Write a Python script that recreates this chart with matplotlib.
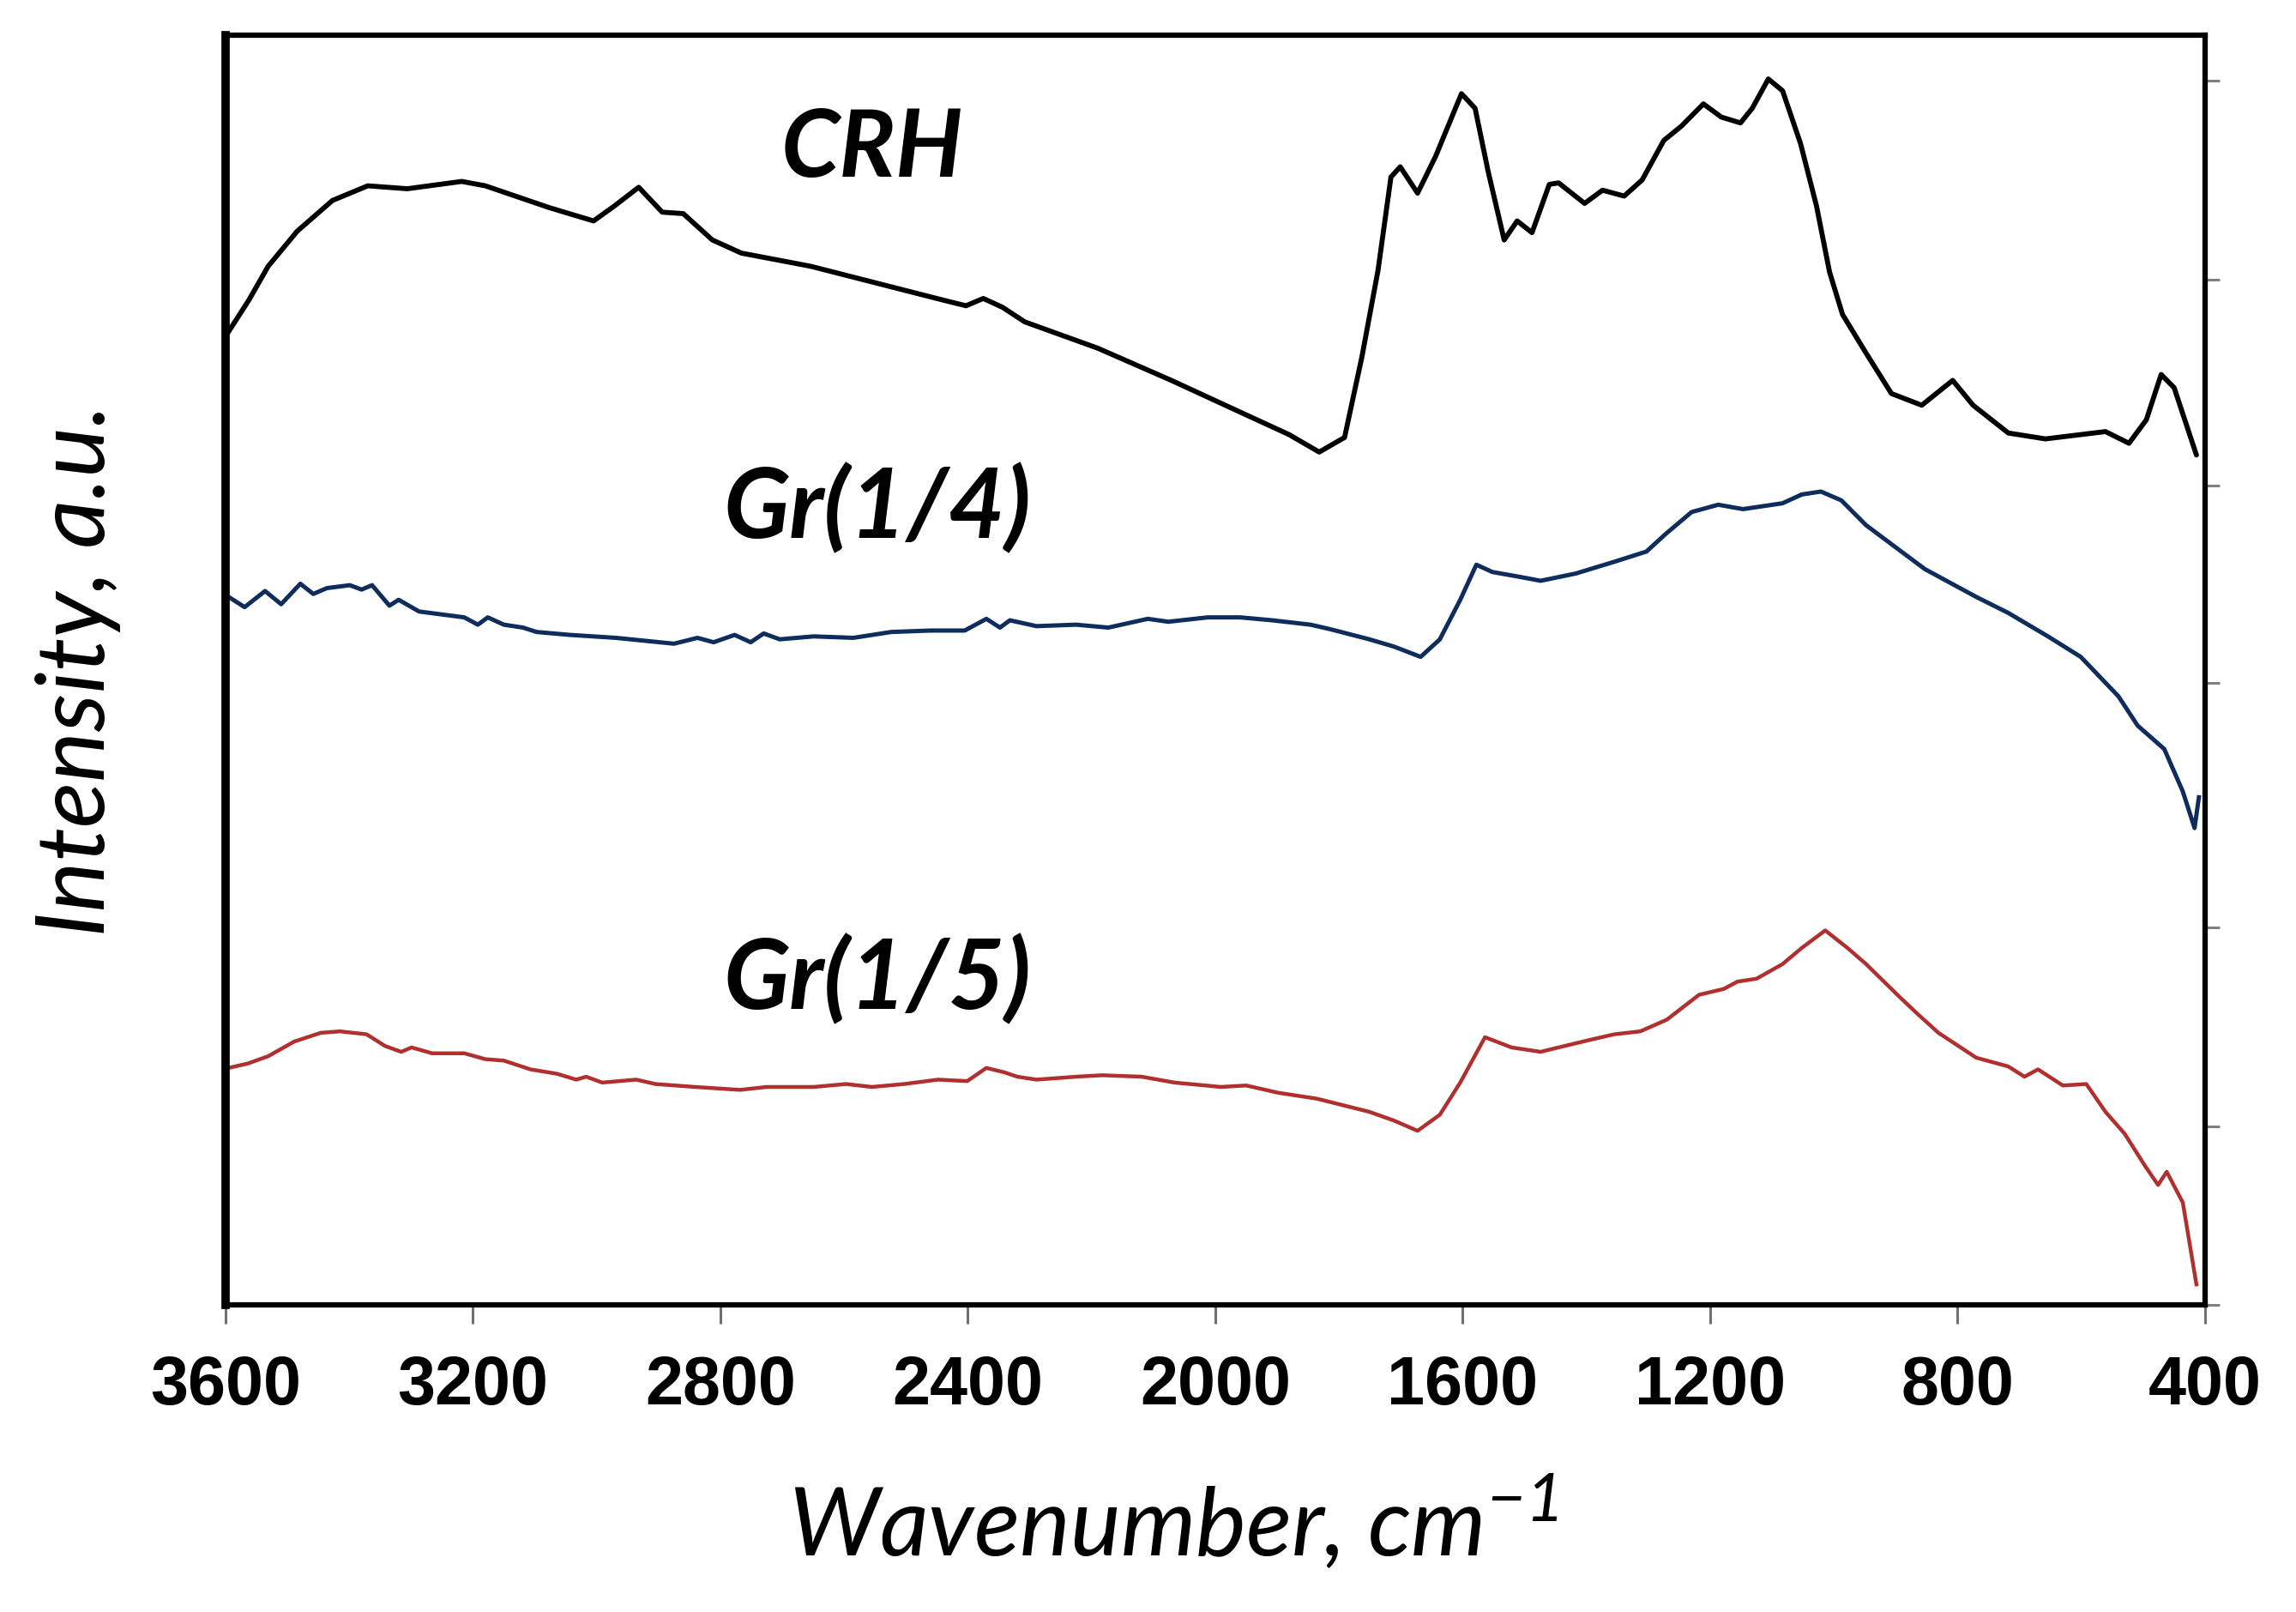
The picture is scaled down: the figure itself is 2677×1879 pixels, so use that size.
import matplotlib
matplotlib.use("Agg")
import matplotlib.pyplot as plt

# FTIR spectra, intensity in arbitrary units (curves are offset vertically)
crh_wn = [3600, 3562, 3531, 3484, 3427, 3370, 3306, 3218, 3180, 3076, 3005, 2972, 2932, 2894,
          2860, 2813, 2766, 2654, 2441, 2403, 2375, 2344, 2308, 2190, 2071, 1953, 1881, 1832,
          1791, 1763, 1737, 1716, 1701, 1673, 1644, 1602, 1580, 1559, 1533, 1512, 1488, 1460,
          1445, 1403, 1374, 1339, 1310, 1275, 1246, 1211, 1182, 1151, 1132, 1106, 1083, 1054,
          1028, 1007, 986, 950, 907, 858, 808, 775, 718, 658, 561, 523, 495, 471, 450, 414]
crh_int = [662, 687, 710, 734, 755, 765, 763, 768, 765, 750, 741, 751, 764, 747,
           746, 728, 719, 710, 687, 683, 688, 682, 672, 654, 632, 609, 595, 583,
           593, 648, 707, 771, 778, 760, 785, 828, 818, 775, 728, 741, 733, 766,
           767, 753, 762, 758, 769, 796, 806, 821, 812, 808, 818, 838, 830, 794,
           751, 706, 677, 652, 623, 615, 632, 615, 596, 592, 597, 589, 605, 636, 627, 581]

gr14_wn = [3595, 3569, 3536, 3510, 3479, 3458, 3436, 3399, 3380, 3363, 3335, 3320, 3287, 3214,
           3192, 3176, 3150, 3119, 3097, 3043, 2969, 2875, 2837, 2811, 2777, 2751, 2730, 2704,
           2649, 2585, 2524, 2460, 2405, 2370, 2348, 2332, 2289, 2225, 2173, 2109, 2076, 2012,
           1960, 1908, 1846, 1815, 1751, 1711, 1668, 1637, 1604, 1578, 1552, 1512, 1474, 1417,
           1355, 1303, 1272, 1230, 1187, 1147, 1083, 1052, 1021, 988, 948, 853, 770, 718,
           654, 601, 540, 509, 466, 436, 417, 410]
gr14_int = [484, 477, 488, 479, 493, 486, 490, 492, 489, 492, 478, 482, 474, 470,
            465, 470, 465, 463, 460, 458, 456, 452, 456, 453, 458, 453, 459, 455,
            457, 456, 460, 461, 461, 469, 463, 468, 464, 465, 463, 469, 467, 470,
            470, 468, 465, 462, 455, 450, 443, 455, 482, 506, 501, 498, 495, 500,
            508, 515, 527, 542, 547, 544, 548, 554, 556, 550, 533, 503, 484, 473,
            457, 443, 416, 396, 380, 351, 326, 347]

gr15_wn = [3595, 3564, 3531, 3489, 3446, 3415, 3372, 3342, 3316, 3299, 3266, 3214, 3180, 3150,
           3107, 3064, 3033, 3017, 2991, 2936, 2905, 2841, 2768, 2725, 2649, 2597, 2555, 2503,
           2448, 2401, 2370, 2341, 2320, 2289, 2225, 2183, 2119, 2066, 1991, 1950, 1898, 1836,
           1751, 1711, 1673, 1637, 1604, 1564, 1521, 1474, 1455, 1396, 1355, 1313, 1270, 1218,
           1178, 1156, 1125, 1083, 1052, 1014, 978, 948, 895, 865, 831, 770, 718, 692,
           670, 630, 592, 561, 530, 497, 476, 462, 436, 414]
gr15_int = [162, 165, 170, 180, 186, 187, 185, 177, 173, 176, 172, 172, 168, 167,
            161, 158, 154, 156, 152, 154, 151, 149, 147, 149, 149, 151, 149, 151,
            154, 153, 162, 159, 156, 154, 156, 157, 156, 152, 149, 150, 145, 141,
            132, 126, 119, 130, 152, 183, 176, 173, 175, 181, 185, 187, 195, 212,
            216, 221, 223, 233, 244, 256, 244, 233, 211, 199, 186, 169, 163, 156,
            161, 150, 151, 132, 117, 95, 82, 91, 70, 14]

x_ticks = [3600, 3200, 2800, 2400, 2000, 1600, 1200, 800, 400]
y_ticks = [0, 122, 258, 425, 560, 701, 837]

labels = ["CRH", "Gr(1/4)", "Gr(1/5)"]
label_x = [2702, 2795, 2795]
label_y = [771, 524, 202]

plt.rcParams["mathtext.fontset"] = "custom"
plt.rcParams["mathtext.rm"] = "Lato:italic"
plt.rcParams["mathtext.it"] = "Lato:italic"

fig = plt.figure(figsize=(26.77, 18.79), dpi=100)
ax = fig.add_axes([0.0982, 0.1905, 0.8622, 0.7877])

ax.plot(crh_wn, crh_int, color="black", lw=4.2, solid_joinstyle="round", solid_capstyle="round")
ax.plot(gr14_wn, gr14_int, color="#0f2d5c", lw=3.6, solid_joinstyle="round")
ax.plot(gr15_wn, gr15_int, color="#b03030", lw=3.2, solid_joinstyle="round")

for txt, lx, ly, fs in zip(labels, label_x, label_y, [79, 82, 82]):
    ax.text(lx, ly, txt, ha="left", va="baseline", fontsize=fs,
            family="Lato", weight="bold", style="italic")

ax.set_xlim(3600, 400)
ax.set_ylim(0, 868)

ax.set_xticks(x_ticks)
ax.set_xticklabels([str(t) for t in x_ticks], family="Liberation Sans", fontsize=57,
                   weight="bold")
ax.tick_params(axis="x", direction="out", length=16, width=2.2, color="#707070", pad=26)

ax.yaxis.tick_right()
ax.set_yticks(y_ticks)
ax.tick_params(axis="y", which="both", left=False, right=True, labelleft=False,
               labelright=False, direction="out", length=12, width=2.2, color="#808080")

for side in ["top", "right", "bottom"]:
    ax.spines[side].set_linewidth(4.5)
ax.spines["left"].set_linewidth(7)
for sp in ax.spines.values():
    sp.set_color("black")

fig.text(0.511, 0.055, "Wavenumber, cm$^{-1}$", ha="center", va="center",
         fontsize=80, family="Lato", style="italic")
fig.text(0.034, 0.584, "Intensity, a.u.", ha="center", va="center", rotation=90,
         fontsize=80, family="Lato", style="italic")

fig.savefig("out.png", dpi=100)
